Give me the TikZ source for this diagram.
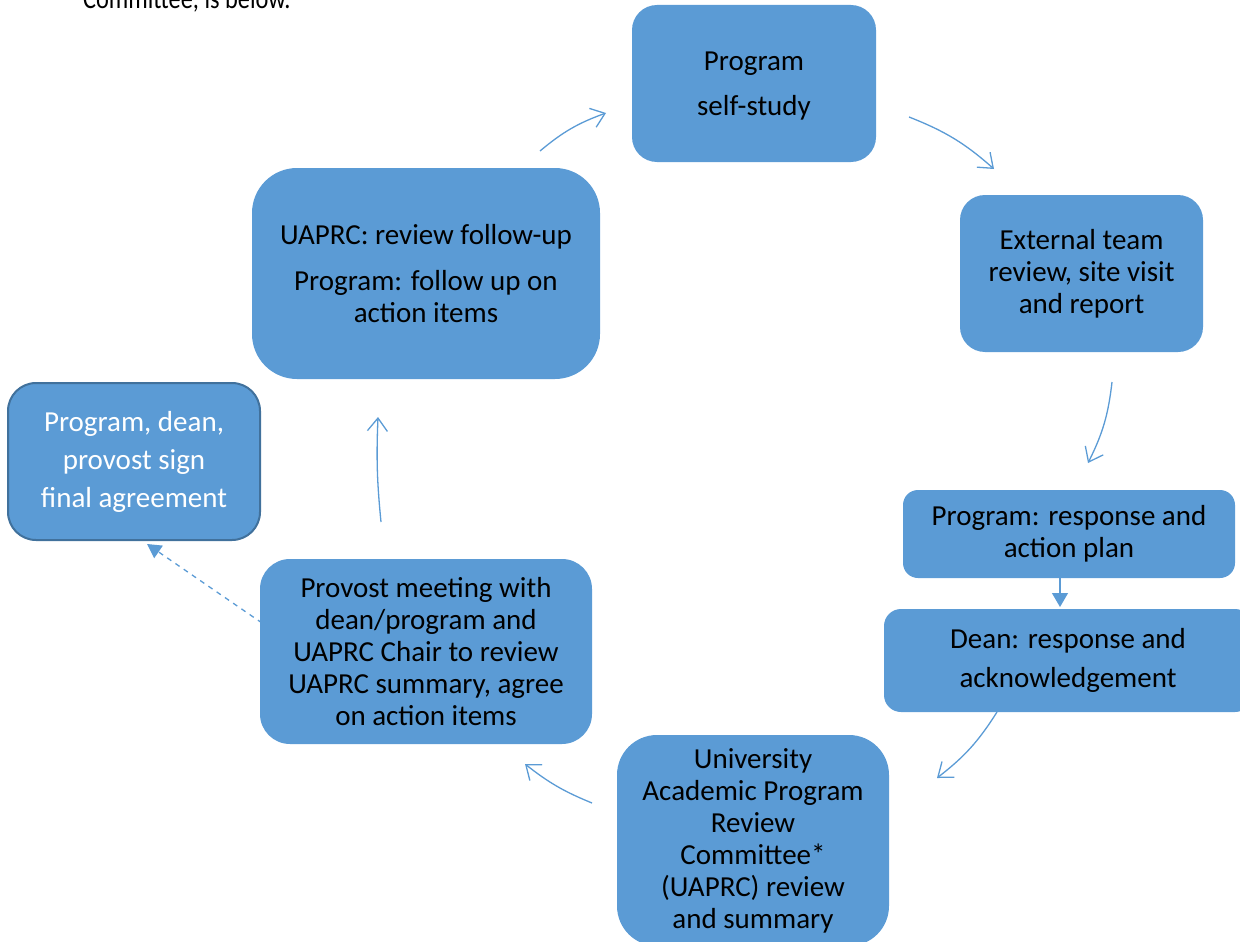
\documentclass[tikz,border=0pt]{standalone}
\usepackage{fontspec}
\setmainfont{Carlito}
\usetikzlibrary{arrows.meta}
\definecolor{boxblue}{HTML}{5B9BD5}
\definecolor{boxedge}{HTML}{41719C}
\begin{document}
\begin{tikzpicture}[x=1pt,y=-1pt,
  box/.style={fill=boxblue, draw=none, align=center, inner sep=0pt,
    font=\fontsize{29}{32}\selectfont, text=black},
  flow/.style={draw=boxblue, line width=1.3pt, -{Straight Barb[length=13pt,width=20pt]}},
  solidflow/.style={draw=boxblue, line width=1.3pt, -{Triangle[length=14pt,width=16pt]}},
  dashflow/.style={draw=boxblue, line width=1.3pt, dash pattern=on 5pt off 5pt,
    -{Triangle[length=14pt,width=15pt]}},
]
\useasboundingbox (0,0) rectangle (1240,942);
\clip (0,0) rectangle (1240,942);

\node[anchor=base west, inner sep=0pt, font=\fontsize{29}{32}\selectfont, xscale=0.84, yscale=1] (intro) at (83,9) {Committee, is below.};

\node[box, minimum width=244pt, minimum height=157pt, rounded corners=25pt, text depth=0pt] (selfstudy) at (754,83.5) {Program\\[13pt]self-study};
\node[box, minimum width=243pt, minimum height=157pt, rounded corners=25pt] (external) at (1081.5,273.5) {External team\\review, site visit\\and report};
\node[box, minimum width=348pt, minimum height=211pt, rounded corners=45pt] (followup) at (426,273.5) {UAPRC: review follow-up\\[14pt]Program: follow up on\\action items};
\node[box, draw=boxedge, line width=2pt, text=white, minimum width=252pt, minimum height=157pt, rounded corners=28pt, font=\fontsize{29}{38}\selectfont] (sign) at (134,461.5) {Program, dean,\\provost sign\\final agreement};
\node[box, minimum width=332pt, minimum height=88pt, rounded corners=15pt] (progresp) at (1069,534) {Program: response and\\action plan};
\node[box, minimum width=368pt, minimum height=103pt, rounded corners=17pt, font=\fontsize{29}{39}\selectfont] (deanresp) at (1068,660.5) {Dean: response and\\acknowledgement};
\node[box, minimum width=272pt, minimum height=211pt, rounded corners=40pt] (uaprc) at (753,840.5) {University\\Academic Program\\Review\\Committee*\\(UAPRC) review\\and summary};
\node[box, minimum width=332pt, minimum height=185pt, rounded corners=30pt] (provost) at (426,651.5) {Provost meeting with\\dean/program and\\UAPRC Chair to review\\UAPRC summary, agree\\on action items};

\coordinate (a1s) at (540,151); \coordinate (a1e) at (606,113);
\coordinate (a2s) at (909,117); \coordinate (a2e) at (994,169);
\coordinate (a3s) at (1112,382); \coordinate (a3e) at (1088,463);
\coordinate (a4s) at (1060,578); \coordinate (a4e) at (1060,607);
\coordinate (a5s) at (997,712); \coordinate (a5e) at (937,778);
\coordinate (a6s) at (592,803); \coordinate (a6e) at (525,764);
\coordinate (a7s) at (381,522); \coordinate (a7e) at (378,417);
\coordinate (a8s) at (262,623); \coordinate (a8e) at (147,544);

\draw[flow] (a1s) to[bend left=10] (a1e);
\draw[flow] (a2s) to[bend left=10] (a2e);
\draw[flow] (a3s) to[bend left=10] (a3e);
\draw[solidflow] (a4s) -- (a4e);
\draw[flow] (a5s) to[bend left=10] (a5e);
\draw[flow] (a6s) to[bend left=8] (a6e);
\draw[flow] (a7s) to[bend left=4] (a7e);
\draw[dashflow] (a8s) -- (a8e);
\end{tikzpicture}
\end{document}
